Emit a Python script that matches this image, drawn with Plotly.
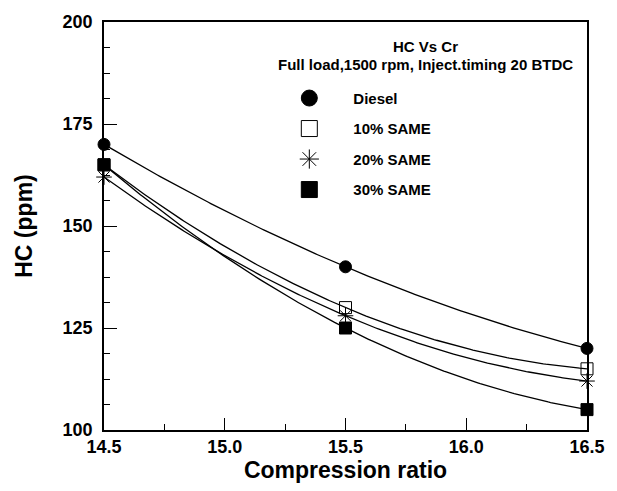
import numpy as np
import plotly.graph_objects as go

cr = [14.5, 15.5, 16.5]
diesel = [170, 140, 120]
same10 = [165, 130, 115]
same20 = [162, 128, 112]
same30 = [165, 125, 105]

series = [
    ("Diesel", diesel, "circle", 12),
    ("10% SAME", same10, "square-open", 12),
    ("20% SAME", same20, "asterisk-open", 13),
    ("30% SAME", same30, "square", 12),
]

FONT = "Liberation Sans, Arial, sans-serif"
fig = go.Figure()
xs = np.linspace(cr[0], cr[-1], 200)
for name, ys, sym, sz in series:
    c = np.polyfit(cr, ys, 2)
    fig.add_trace(go.Scatter(x=xs, y=np.polyval(c, xs), mode="lines",
                             line=dict(color="black", width=1.3),
                             showlegend=False, hoverinfo="skip"))
for name, ys, sym, sz in series:
    fig.add_trace(go.Scatter(x=cr, y=ys, mode="markers", showlegend=False,
                             cliponaxis=False,
                             marker=dict(symbol=sym, size=sz, color="black",
                                         line=dict(color="black", width=1))))
for i, (name, ys, sym, sz) in enumerate(series):
    fig.add_trace(go.Scatter(x=[None], y=[None], mode="markers", name=name,
                             legendgroup=str(i),
                             marker=dict(symbol=sym, size=16, color="black",
                                         line=dict(color="black", width=1))))

fig.update_layout(
    width=617, height=491,
    margin=dict(l=104, r=19, t=19, b=60),
    paper_bgcolor="white", plot_bgcolor="white",
    font=dict(family=FONT, color="black"),
    showlegend=True,
    legend=dict(x=0.334, y=0.7015, xanchor="left", yanchor="middle",
                bgcolor="rgba(0,0,0,0)", borderwidth=0,
                font=dict(size=15, family=FONT, weight="bold"),
                itemwidth=78, tracegroupgap=8),
    annotations=[
        dict(text="<b>HC Vs Cr</b>", x=0.666, y=0.939, xref="paper", yref="paper",
             xanchor="center", yanchor="middle", showarrow=False, font=dict(size=15)),
        dict(text="<b>Full load,1500 rpm, Inject.timing 20 BTDC</b>", x=0.666, y=0.896,
             xref="paper", yref="paper", xanchor="center", yanchor="middle",
             showarrow=False, font=dict(size=15)),
    ],
)
fig.update_xaxes(range=[14.5, 16.5], tickvals=[14.5, 15.0, 15.5, 16.0, 16.5],
                 ticktext=["14.5", "15.0", "15.5", "16.0", "16.5"],
                 ticks="inside", ticklen=12, tickcolor="black", tickwidth=1,
                 minor=dict(dtick=0.25, ticks="inside", ticklen=6, tickcolor="black"),
                 showline=True, linecolor="black", linewidth=1.5, mirror=True,
                 showgrid=False, zeroline=False,
                 tickfont=dict(size=18, weight="bold"),
                 title=dict(text="<b>Compression ratio</b>", font=dict(size=23), standoff=6))
fig.update_yaxes(range=[100, 200], tickvals=[100, 125, 150, 175, 200],
                 ticks="inside", ticklen=13, tickcolor="black", tickwidth=1,
                 minor=dict(dtick=6.25, ticks="inside", ticklen=6, tickcolor="black"),
                 showline=True, linecolor="black", linewidth=1.5, mirror=True,
                 showgrid=False, zeroline=False, ticklabelstandoff=6,
                 tickfont=dict(size=18, weight="bold"),
                 title=dict(text="<b>HC (ppm)</b>", font=dict(size=23), standoff=24))
fig.write_html("out.html")
